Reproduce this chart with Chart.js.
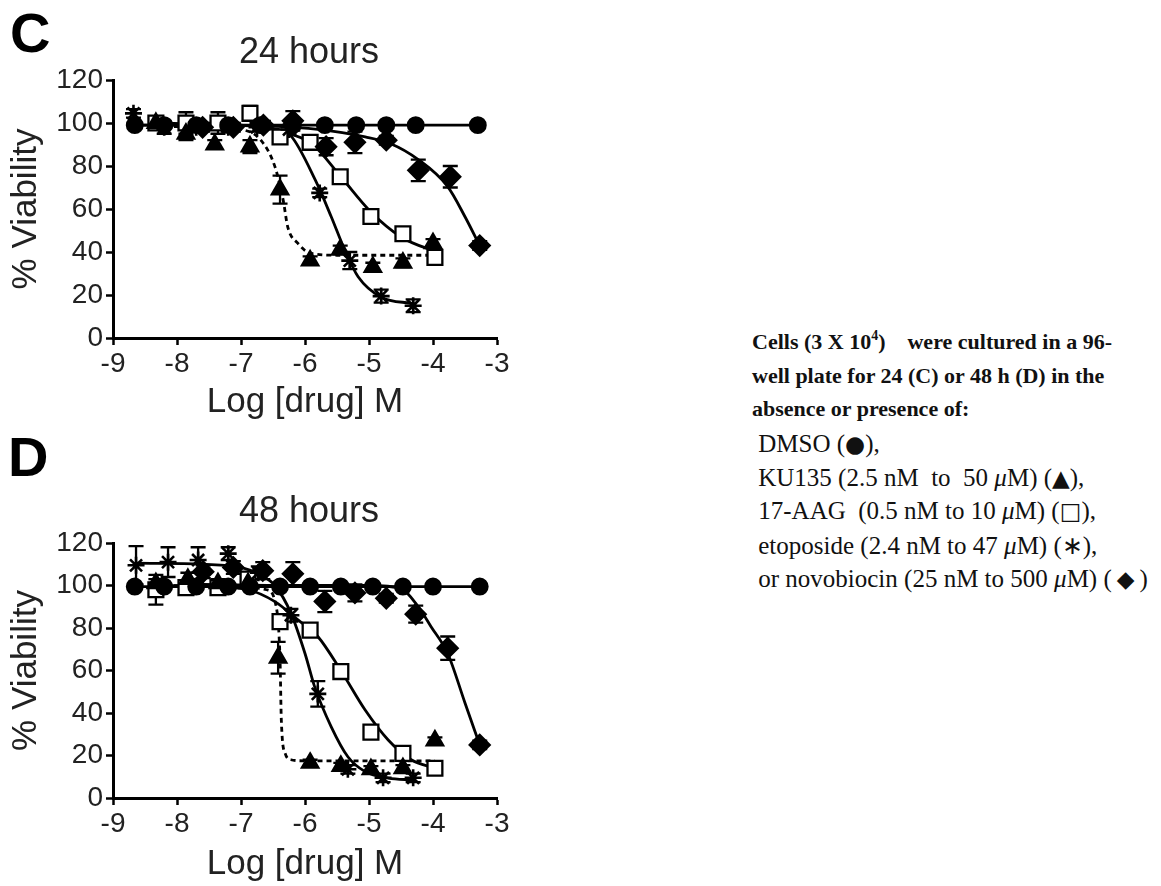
<!DOCTYPE html>
<html>
<head>
<meta charset="utf-8">
<script src="https://cdn.jsdelivr.net/npm/chart.js@4.4.1/dist/chart.umd.min.js"></script>
<style>
  html, body { margin: 0; padding: 0; background: #fff; width: 1161px; height: 886px; overflow: hidden; }
  canvas { position: absolute; left: 0; }
  #p24 { top: 0; }
  #p48 { top: 420px; }
  #desc { position: absolute; left: 752px; top: 329px; color: #111; }
  #desc div { height: 33.7px; line-height: 33.7px; white-space: nowrap; }
  #desc .b { font: bold 22px "Liberation Serif", "Times New Roman", serif; }
  #desc .r { font: 25px "Liberation Serif", "Times New Roman", serif; }
  #desc sup { font-size: 14px; line-height: 0; vertical-align: 9px; }
  #desc .sym { font-family: "DejaVu Sans", sans-serif; font-size: 23px; }
</style>
</head>
<body>
<canvas id="p24" width="620" height="430"></canvas>
<canvas id="p48" width="620" height="466"></canvas>
<div id="desc">
  <div class="b">Cells (3 X 10<sup>4</sup>)&nbsp;&nbsp;&nbsp; were cultured in a 96-</div>
  <div class="b">well plate for 24 (C) or 48 h (D) in the</div>
  <div class="b">absence or presence of:</div>
  <div class="r">&nbsp;DMSO (<span class="sym">●</span>),</div>
  <div class="r">&nbsp;KU135 (2.5 nM&nbsp; to&nbsp; 50 <i>μ</i>M) (<span class="sym">▲</span>),</div>
  <div class="r">&nbsp;17-AAG&nbsp; (0.5 nM to 10 <i>μ</i>M) (<span class="sym">□</span>),</div>
  <div class="r">&nbsp;etoposide (2.4 nM to 47 <i>μ</i>M) (∗),</div>
  <div class="r">&nbsp;or novobiocin (25 nM to 500 <i>μ</i>M) (&thinsp;<span class="sym">◆</span>&thinsp;)</div>
</div>
<script>
// ---------- 24 hours: log10 concentration (M) and % viability ----------
const h24_dmso_x = [-8.66, -8.2, -7.7, -7.2, -6.7, -6.19, -5.69, -5.2, -4.73, -4.27, -3.3];
const h24_dmso_y = [99, 99, 99, 99, 99, 99, 99, 99, 99, 99, 99];

const h24_ku_x   = [-8.33, -7.86, -7.41, -6.86, -6.39, -5.92, -5.45, -4.94, -4.47, -4.0];
const h24_ku_y   = [100, 95, 90, 89, 69, 36, 41, 33, 35, 44];
const h24_ku_err = [2, 3, 2, 3, 6.5, 2, 2, 2, 2, 2];

const h24_aag_x   = [-8.33, -7.86, -7.36, -6.86, -6.39, -5.92, -5.45, -4.97, -4.47, -3.97];
const h24_aag_y   = [100, 100, 100, 104.5, 93.5, 91, 75, 56.5, 48.5, 37.5];
const h24_aag_err = [2, 5, 5, 3.5, 2, 3, 2, 2, 2, 2];

const h24_eto_x   = [-8.68, -8.2, -7.7, -7.2, -6.75, -6.25, -5.77, -5.3, -4.81, -4.31];
const h24_eto_y   = [104.5, 98, 98, 98, 98, 97, 67.5, 36, 19.5, 15];
const h24_eto_err = [2, 3, 2, 2, 2, 2, 2, 4, 3, 3];

const h24_nov_x   = [-7.6, -7.12, -6.65, -6.19, -5.67, -5.22, -4.73, -4.23, -3.73, -3.27];
const h24_nov_y   = [98, 98, 99, 101, 89, 91, 92, 78, 75, 43];
const h24_nov_err = [2, 2, 2, 4.5, 4, 5, 2, 5, 5, 2];

// fitted dose-response curves, 24 hours
const h24_fit_dmso_x = [-8.66, -3.3];
const h24_fit_dmso_y = [99, 99];
const h24_fit_ku_x  = [-8.33, -7.5, -7.0, -6.69, -6.47, -6.34, -6.27, -6.11, -5.92, -5.5, -3.97];
const h24_fit_ku_y  = [98.5, 98, 97, 92, 79.7, 64, 51.7, 44, 39.5, 38.5, 38.5];
const h24_fit_aag_x = [-8.33, -7.5, -6.8, -6.37, -5.9, -5.44, -4.97, -4.5, -4.03, -3.97];
const h24_fit_aag_y = [100, 99.5, 98.5, 96, 90.5, 75, 58.6, 47, 41, 40.5];
const h24_fit_eto_x = [-8.68, -7.5, -6.8, -6.5, -6.22, -5.84, -5.59, -5.38, -5.17, -4.81, -4.31];
const h24_fit_eto_y = [99, 99, 98.5, 97.5, 94, 73.5, 56.4, 41, 28.5, 19, 16];
const h24_fit_nov_x = [-7.6, -6.5, -5.8, -5.06, -4.67, -4.23, -3.77, -3.5, -3.27];
const h24_fit_nov_y = [99, 98.5, 97, 93.5, 90.5, 83, 70.4, 56.4, 43];

// ---------- 48 hours ----------
const h48_dmso_x = [-8.66, -8.2, -7.7, -7.2, -6.86, -6.39, -5.92, -5.44, -4.94, -4.47, -4.0, -3.27];
const h48_dmso_y = [99.5, 99.5, 99.5, 99.5, 99.5, 99.5, 99.5, 99.5, 99.5, 99.5, 99.5, 99.5];

const h48_ku_x   = [-8.33, -7.83, -7.36, -6.89, -6.42, -5.92, -5.44, -4.97, -4.47, -3.97];
const h48_ku_y   = [101, 103, 101, 101, 66, 16.5, 15, 13.5, 14, 27];
const h48_ku_err = [2, 3, 2, 2, 7.5, 1.5, 1.5, 1.5, 1.5, 1.5];

const h48_aag_x   = [-8.33, -7.86, -7.36, -6.89, -6.39, -5.92, -5.44, -4.97, -4.47, -3.97];
const h48_aag_y   = [98, 99, 99, 103, 83, 79, 59.5, 31, 21, 14];
const h48_aag_err = [7, 2, 2, 2, 3, 2, 2, 2, 2, 2];

const h48_eto_x   = [-8.64, -8.14, -7.67, -7.2, -6.73, -6.22, -5.8, -5.33, -4.78, -4.31];
const h48_eto_y   = [109.5, 111, 112, 115, 106, 86, 49, 13.5, 9.5, 9.5];
const h48_eto_err = [9, 7, 6, 3, 3, 3, 6, 2, 2, 2];

const h48_nov_x   = [-7.59, -7.12, -6.66, -6.19, -5.69, -5.22, -4.73, -4.27, -3.77, -3.27];
const h48_nov_y   = [106.5, 108.5, 107, 105.5, 92.5, 96.5, 94, 86.5, 70.5, 25];
const h48_nov_err = [3, 3, 4, 5.5, 5, 4, 2, 4, 5.5, 2];

// fitted dose-response curves, 48 hours
const h48_fit_dmso_x = [-8.66, -3.27];
const h48_fit_dmso_y = [99.5, 99.5];
const h48_fit_ku_x  = [-8.33, -7.0, -6.6, -6.45, -6.39, -6.37, -6.31, -6.22, -6.0, -3.97];
const h48_fit_ku_y  = [100, 99.5, 98, 90, 65, 36.7, 21, 18, 17.5, 17.5];
const h48_fit_aag_x = [-8.33, -7.5, -6.89, -6.47, -6.11, -5.8, -5.44, -5.06, -4.7, -4.34, -3.97];
const h48_fit_aag_y = [100, 99.5, 98, 92.4, 83.8, 76, 60, 41.4, 27.3, 18, 14];
const h48_fit_eto_x = [-8.64, -7.6, -7.0, -6.7, -6.47, -6.22, -6.0, -5.85, -5.59, -5.33, -5.06, -4.7, -4.31];
const h48_fit_eto_y = [110.5, 110, 108.5, 105, 100, 87, 68, 52.4, 33.5, 19.4, 12.4, 9.4, 8.5];
const h48_fit_nov_x = [-7.59, -6.0, -5.0, -4.5, -4.23, -4.03, -3.77, -3.5, -3.27];
const h48_fit_nov_y = [100.5, 100, 100, 98.5, 90, 80.6, 68, 44.7, 25];

// axis ticks
const xTicks = [-9, -8, -7, -6, -5, -4, -3];
const yTicks = [0, 20, 40, 60, 80, 100, 120];

// ---------- drawing ----------
const FONT = '"Liberation Sans", Arial, Helvetica, sans-serif';

function zip(xs, ys) { return xs.map((v, i) => ({ x: v, y: ys[i] })); }

function markers(xs, ys, errs, style, radius, fill) {
  return {
    data: zip(xs, ys),
    errors: errs || null,
    showLine: false,
    pointStyle: style,
    pointRadius: radius,
    pointBackgroundColor: fill,
    pointBorderColor: '#000',
    pointBorderWidth: style === 'star' ? 2.6 : 2.3,
    order: 1
  };
}

function fitLine(xs, ys, dashed) {
  return {
    data: zip(xs, ys),
    showLine: true,
    pointRadius: 0,
    borderColor: '#000',
    borderWidth: 2.8,
    borderDash: dashed ? [5, 4] : [],
    cubicInterpolationMode: 'monotone',
    fill: false,
    order: 2
  };
}

// vertical SEM bars with caps, drawn underneath the symbols
const errorBars = {
  id: 'errorBars',
  beforeDatasetsDraw(chart, args, opts) {
    const { ctx, scales: { x, y } } = chart;
    ctx.save();
    ctx.strokeStyle = '#000';
    ctx.lineWidth = opts.width;
    chart.data.datasets.forEach(ds => {
      if (!ds.errors) return;
      ds.data.forEach((pt, j) => {
        const e = ds.errors[j];
        if (!e) return;
        const px = x.getPixelForValue(pt.x);
        const top = y.getPixelForValue(pt.y + e);
        const bot = y.getPixelForValue(pt.y - e);
        ctx.beginPath();
        ctx.moveTo(px, top); ctx.lineTo(px, bot);
        ctx.moveTo(px - opts.cap, top); ctx.lineTo(px + opts.cap, top);
        ctx.moveTo(px - opts.cap, bot); ctx.lineTo(px + opts.cap, bot);
        ctx.stroke();
      });
    });
    ctx.restore();
  }
};

// panel letter and time-point heading
const panelHeading = {
  id: 'panelHeading',
  afterDraw(chart, args, opts) {
    const { ctx, chartArea } = chart;
    ctx.save();
    ctx.fillStyle = '#000';
    ctx.textBaseline = 'middle';
    ctx.textAlign = 'left';
    ctx.font = 'bold 56px ' + FONT;
    ctx.fillText(opts.letter, opts.letterX, opts.letterY);
    ctx.fillStyle = '#222';
    ctx.textAlign = 'center';
    ctx.font = '36px ' + FONT;
    ctx.fillText(opts.title, (chartArea.left + chartArea.right) / 2 + 4, opts.titleY);
    ctx.restore();
  }
};

function makePanel(id, cfg) {
  const tickFont = { family: FONT, size: 28 };
  const titleFont = { family: FONT, size: 35 };
  const datasets = [
    fitLine(cfg.fit.dmso[0], cfg.fit.dmso[1], false),
    fitLine(cfg.fit.ku[0], cfg.fit.ku[1], true),
    fitLine(cfg.fit.aag[0], cfg.fit.aag[1], false),
    fitLine(cfg.fit.eto[0], cfg.fit.eto[1], false),
    fitLine(cfg.fit.nov[0], cfg.fit.nov[1], false),
    markers(cfg.dmso[0], cfg.dmso[1], null, 'circle', 7.8, '#000'),
    markers(cfg.ku[0], cfg.ku[1], cfg.ku[2], 'triangle', 9.5, '#000'),
    markers(cfg.eto[0], cfg.eto[1], cfg.eto[2], 'star', 8.5, '#000'),
    markers(cfg.nov[0], cfg.nov[1], cfg.nov[2], 'rectRot', 10, '#000'),
    markers(cfg.aag[0], cfg.aag[1], cfg.aag[2], 'rect', 10.5, '#fff')
  ];
  return new Chart(document.getElementById(id), {
    type: 'scatter',
    data: { datasets },
    options: {
      responsive: false,
      animation: false,
      events: [],
      layout: { padding: { top: cfg.top, right: 123, left: 0, bottom: 0 } },
      plugins: {
        legend: { display: false },
        tooltip: { enabled: false },
        errorBars: { width: 2.3, cap: 7.5 },
        panelHeading: { letter: cfg.letter, letterX: cfg.letterX, letterY: cfg.letterY, title: cfg.title, titleY: cfg.titleY }
      },
      scales: {
        x: {
          type: 'linear', min: xTicks[0], max: xTicks[xTicks.length - 1],
          afterBuildTicks(s) { s.ticks = xTicks.map(v => ({ value: v })); },
          ticks: { color: '#222', font: tickFont, padding: 2, maxRotation: 0 },
          grid: { drawOnChartArea: false, drawTicks: true, tickLength: 7, tickWidth: 2.5, tickColor: '#000' },
          border: { color: '#000', width: 3 },
          title: { display: true, text: 'Log [drug] M', color: '#222', font: titleFont, padding: { top: 0, bottom: cfg.xTitlePad } },
          afterFit(s) { s.height = cfg.xHeight; }
        },
        y: {
          type: 'linear', min: yTicks[0], max: yTicks[yTicks.length - 1],
          afterBuildTicks(s) { s.ticks = yTicks.map(v => ({ value: v })); },
          ticks: { color: '#222', font: tickFont, padding: 3 },
          grid: { drawOnChartArea: false, drawTicks: true, tickLength: 7, tickWidth: 2.5, tickColor: '#000' },
          border: { color: '#000', width: 3 },
          title: { display: true, text: '% Viability', color: '#222', font: titleFont, padding: { top: 5, bottom: 0 } },
          afterFit(s) { s.width = 113; }
        }
      }
    },
    plugins: [errorBars, panelHeading]
  });
}

makePanel('p24', {
  letter: 'C', letterX: 10, letterY: 37, title: '24 hours', titleY: 53,
  top: 80, xHeight: 92, xTitlePad: 7,
  dmso: [h24_dmso_x, h24_dmso_y],
  ku: [h24_ku_x, h24_ku_y, h24_ku_err],
  aag: [h24_aag_x, h24_aag_y, h24_aag_err],
  eto: [h24_eto_x, h24_eto_y, h24_eto_err],
  nov: [h24_nov_x, h24_nov_y, h24_nov_err],
  fit: {
    dmso: [h24_fit_dmso_x, h24_fit_dmso_y], ku: [h24_fit_ku_x, h24_fit_ku_y],
    aag: [h24_fit_aag_x, h24_fit_aag_y], eto: [h24_fit_eto_x, h24_fit_eto_y],
    nov: [h24_fit_nov_x, h24_fit_nov_y]
  }
});

makePanel('p48', {
  letter: 'D', letterX: 8, letterY: 41, title: '48 hours', titleY: 92,
  top: 123, xHeight: 88, xTitlePad: 1,
  dmso: [h48_dmso_x, h48_dmso_y],
  ku: [h48_ku_x, h48_ku_y, h48_ku_err],
  aag: [h48_aag_x, h48_aag_y, h48_aag_err],
  eto: [h48_eto_x, h48_eto_y, h48_eto_err],
  nov: [h48_nov_x, h48_nov_y, h48_nov_err],
  fit: {
    dmso: [h48_fit_dmso_x, h48_fit_dmso_y], ku: [h48_fit_ku_x, h48_fit_ku_y],
    aag: [h48_fit_aag_x, h48_fit_aag_y], eto: [h48_fit_eto_x, h48_fit_eto_y],
    nov: [h48_fit_nov_x, h48_fit_nov_y]
  }
});
</script>
</body>
</html>
